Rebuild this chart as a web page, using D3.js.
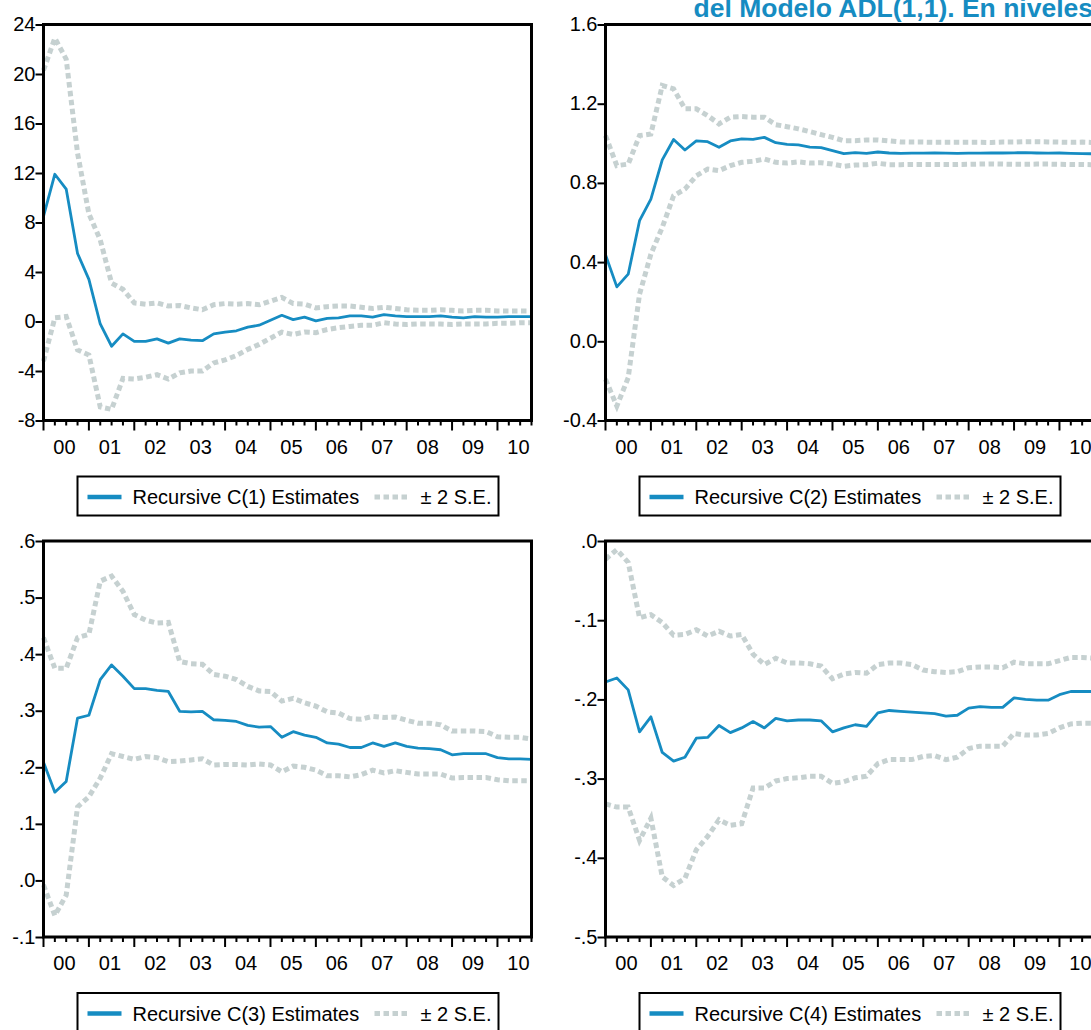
<!DOCTYPE html>
<html>
<head>
<meta charset="utf-8">
<script src="https://cdn.jsdelivr.net/npm/d3@7"></script>
<style>
  body { margin: 0; background: #fff; }
  text { font-family: "Liberation Sans", Arial, sans-serif; }
</style>
</head>
<body>
<script>
// year labels on the time axis, quarterly sample 2000Q1 - 2010Q4
const yearLabels = ['00', '01', '02', '03', '04', '05', '06', '07', '08', '09', '10'];
const quarterNames = ['Q1', 'Q2', 'Q3', 'Q4'];
const quarters = yearLabels.flatMap((y) => quarterNames.map((q) => y + q));

// recursive estimates and +/- 2 S.E. bands
const c1Est = [8.5, 11.9, 10.7, 5.5, 3.4, -0.2, -2.0, -1.0, -1.6, -1.6, -1.4, -1.75, -1.4, -1.5, -1.55, -1.0, -0.85, -0.75, -0.45, -0.3, 0.1, 0.5, 0.15, 0.35, 0.05, 0.25, 0.3, 0.45, 0.45, 0.35, 0.55, 0.45, 0.4, 0.4, 0.4, 0.45, 0.35, 0.3, 0.4, 0.35, 0.35, 0.4, 0.4, 0.4];
const c1Up = [20.3, 22.9, 21.2, 13.6, 8.7, 6.6, 3.1, 2.6, 1.5, 1.4, 1.5, 1.25, 1.3, 1.1, 0.95, 1.35, 1.45, 1.4, 1.45, 1.35, 1.65, 1.95, 1.45, 1.4, 1.1, 1.2, 1.25, 1.25, 1.15, 1.05, 1.15, 1.05, 0.95, 0.9, 0.9, 0.95, 0.9, 0.85, 0.9, 0.9, 0.85, 0.85, 0.85, 0.85];
const c1Lo = [-3.2, 0.3, 0.4, -2.3, -2.7, -6.9, -7.1, -4.6, -4.65, -4.5, -4.3, -4.65, -4.15, -4.0, -4.0, -3.35, -3.1, -2.75, -2.25, -1.85, -1.35, -0.85, -1.05, -0.85, -0.9, -0.65, -0.5, -0.4, -0.3, -0.3, -0.1, -0.2, -0.25, -0.2, -0.2, -0.2, -0.25, -0.2, -0.2, -0.2, -0.15, -0.15, -0.1, -0.1];

const c2Est = [0.437, 0.275, 0.339, 0.609, 0.718, 0.916, 1.019, 0.966, 1.012, 1.008, 0.98, 1.012, 1.022, 1.02, 1.03, 1.003, 0.995, 0.992, 0.981, 0.978, 0.963, 0.948, 0.953, 0.949, 0.956, 0.951, 0.949, 0.95, 0.95, 0.951, 0.95, 0.949, 0.95, 0.95, 0.951, 0.951, 0.952, 0.953, 0.951, 0.95, 0.951, 0.949, 0.948, 0.947];
const c2Up = [1.039, 0.887, 0.895, 1.039, 1.047, 1.292, 1.275, 1.174, 1.174, 1.14, 1.098, 1.132, 1.135, 1.132, 1.132, 1.094, 1.084, 1.073, 1.059, 1.044, 1.03, 1.013, 1.013, 1.017, 1.017, 1.012, 1.007, 1.006, 1.006, 1.005, 1.005, 1.005, 1.005, 1.005, 1.004, 1.006, 1.006, 1.008, 1.008, 1.007, 1.006, 1.005, 1.006, 1.004];
const c2Lo = [-0.192, -0.327, -0.184, 0.238, 0.44, 0.575, 0.735, 0.769, 0.836, 0.87, 0.862, 0.887, 0.904, 0.909, 0.921, 0.904, 0.9, 0.906, 0.9, 0.902, 0.895, 0.884, 0.89, 0.892, 0.899, 0.892, 0.892, 0.893, 0.893, 0.893, 0.893, 0.893, 0.894, 0.895, 0.896, 0.895, 0.894, 0.894, 0.895, 0.895, 0.894, 0.893, 0.893, 0.892];

const c3Est = [0.209, 0.156, 0.175, 0.287, 0.292, 0.355, 0.381, 0.361, 0.339, 0.339, 0.336, 0.334, 0.299, 0.298, 0.299, 0.284, 0.283, 0.281, 0.274, 0.271, 0.272, 0.253, 0.263, 0.257, 0.253, 0.243, 0.241, 0.235, 0.235, 0.243, 0.237, 0.243, 0.237, 0.234, 0.233, 0.231, 0.222, 0.224, 0.224, 0.224, 0.217, 0.215, 0.215, 0.214];
const c3Up = [0.429, 0.375, 0.375, 0.429, 0.435, 0.529, 0.538, 0.511, 0.47, 0.46, 0.455, 0.456, 0.387, 0.383, 0.382, 0.364, 0.361, 0.355, 0.343, 0.335, 0.334, 0.317, 0.322, 0.314, 0.308, 0.298, 0.296, 0.286, 0.285, 0.29, 0.288, 0.289, 0.283, 0.278, 0.278, 0.275, 0.264, 0.264, 0.264, 0.263, 0.254, 0.253, 0.253, 0.25];
const c3Lo = [-0.008, -0.062, -0.026, 0.13, 0.148, 0.181, 0.224, 0.219, 0.214, 0.219, 0.217, 0.21, 0.211, 0.213, 0.215, 0.204, 0.205, 0.205, 0.204, 0.206, 0.204, 0.192, 0.202, 0.2, 0.195, 0.185, 0.185, 0.183, 0.187, 0.195, 0.19, 0.194, 0.191, 0.188, 0.188, 0.188, 0.181, 0.182, 0.182, 0.182, 0.178, 0.176, 0.176, 0.176];

const c4Est = [-0.178, -0.173, -0.188, -0.241, -0.222, -0.267, -0.278, -0.273, -0.249, -0.248, -0.233, -0.242, -0.236, -0.228, -0.236, -0.224, -0.227, -0.226, -0.226, -0.227, -0.241, -0.236, -0.232, -0.234, -0.217, -0.214, -0.215, -0.216, -0.217, -0.218, -0.221, -0.22, -0.211, -0.209, -0.21, -0.21, -0.198, -0.2, -0.201, -0.201, -0.194, -0.19, -0.19, -0.19];
const c4Up = [-0.023, -0.011, -0.027, -0.097, -0.093, -0.103, -0.119, -0.118, -0.112, -0.12, -0.114, -0.12, -0.118, -0.143, -0.156, -0.148, -0.154, -0.154, -0.155, -0.158, -0.174, -0.168, -0.166, -0.167, -0.156, -0.154, -0.154, -0.156, -0.163, -0.165, -0.166, -0.165, -0.16, -0.159, -0.159, -0.16, -0.153, -0.155, -0.155, -0.155, -0.151, -0.147, -0.147, -0.148];
const c4Lo = [-0.332, -0.336, -0.336, -0.378, -0.35, -0.424, -0.435, -0.426, -0.39, -0.373, -0.352, -0.359, -0.357, -0.312, -0.312, -0.303, -0.3, -0.299, -0.297, -0.297, -0.306, -0.304, -0.299, -0.297, -0.281, -0.276, -0.276, -0.276, -0.272, -0.271, -0.276, -0.273, -0.262, -0.259, -0.259, -0.259, -0.243, -0.245, -0.245, -0.243, -0.236, -0.231, -0.23, -0.23];

// y tick values and their labels
const c1Ticks = [24, 20, 16, 12, 8, 4, 0, -4, -8];
const c1Labels = ['24', '20', '16', '12', '8', '4', '0', '-4', '-8'];
const c2Ticks = [1.6, 1.2, 0.8, 0.4, 0.0, -0.4];
const c2Labels = ['1.6', '1.2', '0.8', '0.4', '0.0', '-0.4'];
const c3Ticks = [0.6, 0.5, 0.4, 0.3, 0.2, 0.1, 0.0, -0.1];
const c3Labels = ['.6', '.5', '.4', '.3', '.2', '.1', '.0', '-.1'];
const c4Ticks = [0.0, -0.1, -0.2, -0.3, -0.4, -0.5];
const c4Labels = ['.0', '-.1', '-.2', '-.3', '-.4', '-.5'];

const title = 'del Modelo ADL(1,1). En niveles';
const blue = '#168cc2';
const grey = '#c6d1d1';

const W = 1091, H = 1030;
const pw = 488, ph = 396;

const panels = [
  {name: 'C(1)', est: c1Est, up: c1Up, lo: c1Lo, ticks: c1Ticks, labels: c1Labels, x0: 43.5, y0: 24.5},
  {name: 'C(2)', est: c2Est, up: c2Up, lo: c2Lo, ticks: c2Ticks, labels: c2Labels, x0: 605.5, y0: 24.5},
  {name: 'C(3)', est: c3Est, up: c3Up, lo: c3Lo, ticks: c3Ticks, labels: c3Labels, x0: 43.5, y0: 541},
  {name: 'C(4)', est: c4Est, up: c4Up, lo: c4Lo, ticks: c4Ticks, labels: c4Labels, x0: 605.5, y0: 541}
];

const svg = d3.select('body').append('svg')
  .attr('width', W)
  .attr('height', H);

svg.append('rect').attr('width', W).attr('height', H).attr('fill', '#fff');

// shared time scale (quarters)
const x = d3.scalePoint().domain(quarters).range([0, pw]);
const step = x.step();

panels.forEach((p) => {
  const g = svg.append('g').attr('transform', `translate(${p.x0},${p.y0})`);
  const y = d3.scaleLinear()
    .domain([p.ticks[p.ticks.length - 1], p.ticks[0]])
    .range([ph, 0]);

  const line = d3.line()
    .x((d, i) => x(quarters[i]))
    .y((d) => y(d));

  // bands first, estimate on top
  [p.up, p.lo].forEach((s) => {
    g.append('path')
      .attr('d', line(s))
      .attr('fill', 'none')
      .attr('stroke', grey)
      .attr('stroke-width', 5)
      .attr('stroke-dasharray', '5.5,3.5');
  });
  g.append('path')
    .attr('d', line(p.est))
    .attr('fill', 'none')
    .attr('stroke', blue)
    .attr('stroke-width', 2.8)
    .attr('stroke-linejoin', 'round');

  // frame
  g.append('rect')
    .attr('width', pw)
    .attr('height', ph)
    .attr('fill', 'none')
    .attr('stroke', '#000')
    .attr('stroke-width', 3);

  // y axis
  const yAxis = g.append('g')
    .call(d3.axisLeft(y)
      .tickValues(p.ticks)
      .tickSize(8)
      .tickPadding(0)
      .tickFormat((d, i) => p.labels[i]));
  yAxis.select('.domain').remove();
  yAxis.selectAll('line').attr('stroke-width', 2);
  yAxis.selectAll('text')
    .attr('font-size', 20)
    .attr('font-family', '"Liberation Sans", Arial, sans-serif')
    .attr('fill', '#000')
    .attr('dy', '0.3em');

  // x axis: long ticks at Q1, short ticks at other quarters
  const xAxis = g.append('g').attr('transform', `translate(0,${ph})`);
  xAxis.selectAll('line')
    .data(quarters)
    .join('line')
    .attr('x1', (d) => x(d))
    .attr('x2', (d) => x(d))
    .attr('y1', 0)
    .attr('y2', (d) => d.endsWith('Q1') ? 10 : 5)
    .attr('stroke', '#000')
    .attr('stroke-width', 2);
  xAxis.selectAll('text')
    .data(yearLabels)
    .join('text')
    .attr('x', (d) => x(d + 'Q2') + step * 0.85)
    .attr('y', 33)
    .attr('text-anchor', 'middle')
    .attr('font-size', 20)
    .text((d) => d);

  // legend
  const lg = g.append('g').attr('transform', `translate(34,${ph + 56})`);
  lg.append('rect')
    .attr('width', 421)
    .attr('height', 39)
    .attr('fill', '#fff')
    .attr('stroke', '#000')
    .attr('stroke-width', 2);
  lg.append('line')
    .attr('x1', 10).attr('x2', 44)
    .attr('y1', 20.5).attr('y2', 20.5)
    .attr('stroke', blue)
    .attr('stroke-width', 4.5);
  lg.append('text')
    .attr('x', 55).attr('y', 27.5)
    .attr('font-size', 20)
    .text(`Recursive ${p.name} Estimates`);
  lg.append('line')
    .attr('x1', 297).attr('x2', 332)
    .attr('y1', 20.5).attr('y2', 20.5)
    .attr('stroke', grey)
    .attr('stroke-width', 5)
    .attr('stroke-dasharray', '5.5,3.5');
  lg.append('text')
    .attr('x', 343).attr('y', 27.5)
    .attr('font-size', 20)
    .text('± 2 S.E.');
});

// title (cut by the page edge, as in the original)
svg.append('text')
  .attr('x', 693.5)
  .attr('y', 17)
  .attr('font-size', 26.5)
  .attr('font-weight', 'bold')
  .attr('fill', blue)
  .text(title);
</script>
</body>
</html>
